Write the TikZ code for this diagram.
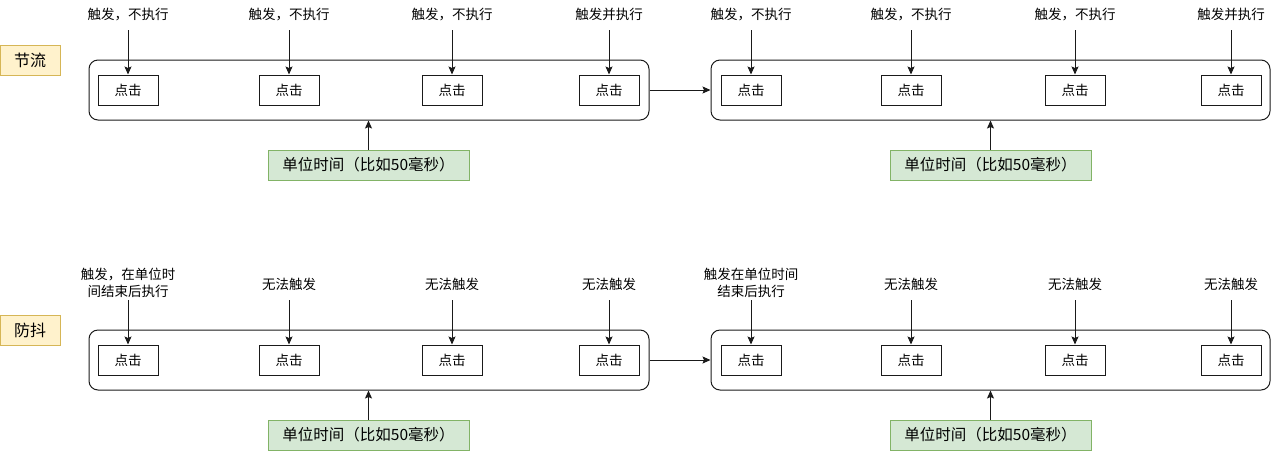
\documentclass[tikz,border=0pt]{standalone}
\usepackage{fontspec}
\setmainfont{Noto Sans CJK SC}
\usetikzlibrary{arrows.meta}
\definecolor{tagfill}{HTML}{FFF2CC}
\definecolor{tagdraw}{HTML}{D6B656}
\definecolor{unitfill}{HTML}{D5E8D4}
\definecolor{unitdraw}{HTML}{82B366}
\definecolor{linec}{HTML}{1A1A1A}
\begin{document}
\begin{tikzpicture}[x=1pt,y=-1pt,
  click/.style={draw=linec, line width=1pt, minimum width=60pt, minimum height=30pt, inner sep=0pt, font=\fontsize{13.5}{15}\selectfont},
  group/.style={draw=linec, line width=1pt, rounded corners=9pt, minimum height=60pt, inner sep=0pt},
  tag/.style={draw=tagdraw, fill=tagfill, line width=1pt, minimum width=60pt, minimum height=30pt, inner sep=0pt, font=\fontsize{16}{18}\selectfont},
  unit/.style={draw=unitdraw, fill=unitfill, line width=1pt, minimum width=201pt, minimum height=30pt, inner sep=0pt, font=\fontsize{15.5}{17}\selectfont},
  lbl/.style={inner sep=0pt, minimum height=30pt, text height=11pt, text depth=2.5pt, align=center, font=\fontsize{13.5}{17}\selectfont},
  lbltwo/.style={inner sep=0pt, minimum height=34pt, align=center, font=\fontsize{13.5}{17}\selectfont},
  arr/.style={draw=linec, line width=1pt, -{Stealth[length=8pt,width=7pt,inset=1.5pt]}}
]
\useasboundingbox (0,0) rectangle (1272,451);

% ===== throttle row =====
\node[tag] (t1) at (30,60) {节流};
\node[group, minimum width=560pt] (g11) at (369,90) {};
\node[group, minimum width=559pt] (g12) at (990.5,90) {};
\node[click] (c11) at (128,90) {点击};
\node[click] (c12) at (289,90) {点击};
\node[click] (c13) at (452,90) {点击};
\node[click] (c14) at (609,90) {点击};
\node[click] (c15) at (751,90) {点击};
\node[click] (c16) at (911,90) {点击};
\node[click] (c17) at (1075,90) {点击};
\node[click] (c18) at (1231,90) {点击};
\node[lbl] (l11) at (128,15) {触发，不执行};
\node[lbl] (l12) at (289,15) {触发，不执行};
\node[lbl] (l13) at (452,15) {触发，不执行};
\node[lbl] (l14) at (609,15) {触发并执行};
\node[lbl] (l15) at (751,15) {触发，不执行};
\node[lbl] (l16) at (911,15) {触发，不执行};
\node[lbl] (l17) at (1075,15) {触发，不执行};
\node[lbl] (l18) at (1231,15) {触发并执行};
\foreach \i in {1,...,8} { \draw[arr] (l1\i.south) -- (c1\i.north); }
\node[unit] (u11) at (368.5,165) {单位时间（比如50毫秒）};
\node[unit] (u12) at (990.5,165) {单位时间（比如50毫秒）};
\draw[arr] (u11.north) -- (u11.north |- g11.south);
\draw[arr] (u12.north) -- (u12.north |- g12.south);
\draw[arr] (g11.east) -- (g12.west);

% ===== debounce row =====
\node[tag] (t2) at (30,330.5) {防抖};
\node[group, minimum width=560pt] (g21) at (369,360) {};
\node[group, minimum width=559pt] (g22) at (990.5,360) {};
\node[click] (c21) at (128,360) {点击};
\node[click] (c22) at (289,360) {点击};
\node[click] (c23) at (452,360) {点击};
\node[click] (c24) at (609,360) {点击};
\node[click] (c25) at (751,360) {点击};
\node[click] (c26) at (911,360) {点击};
\node[click] (c27) at (1075,360) {点击};
\node[click] (c28) at (1231,360) {点击};
\node[lbltwo] (l21) at (128,283) {触发，在单位时\\间结束后执行};
\node[lbl] (l22) at (289,285) {无法触发};
\node[lbl] (l23) at (452,285) {无法触发};
\node[lbl] (l24) at (609,285) {无法触发};
\node[lbltwo] (l25) at (751,283) {触发在单位时间\\结束后执行};
\node[lbl] (l26) at (911,285) {无法触发};
\node[lbl] (l27) at (1075,285) {无法触发};
\node[lbl] (l28) at (1231,285) {无法触发};
\foreach \i in {1,...,8} { \draw[arr] (l2\i.south) -- (c2\i.north); }
\node[unit] (u21) at (368.5,435) {单位时间（比如50毫秒）};
\node[unit] (u22) at (990.5,435) {单位时间（比如50毫秒）};
\draw[arr] (u21.north) -- (u21.north |- g21.south);
\draw[arr] (u22.north) -- (u22.north |- g22.south);
\draw[arr] (g21.east) -- (g22.west);
\end{tikzpicture}
\end{document}
